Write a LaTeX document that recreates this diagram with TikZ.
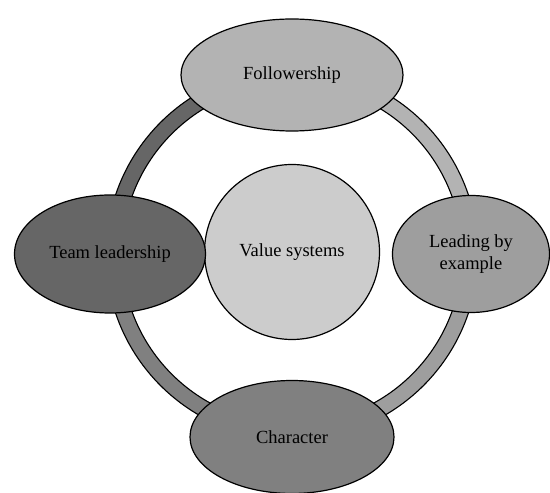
\documentclass[tikz,border=0pt]{standalone}
\usepackage{fontspec}
\setmainfont{Liberation Serif}
\usetikzlibrary{shapes.geometric,calc}
\definecolor{cFol}{HTML}{B3B3B3}
\definecolor{cVal}{HTML}{CCCCCC}
\definecolor{cLead}{HTML}{9E9E9E}
\definecolor{cTeam}{HTML}{666666}
\definecolor{cChar}{HTML}{808080}
\tikzset{
  bubble/.style={ellipse, draw=black, line width=1.2pt, inner sep=0pt,
    align=center, font=\fontsize{18.5}{22}\selectfont},
  seg/.style={draw=black, line width=1.1pt},
}
\begin{document}
\begin{tikzpicture}[x=1pt,y=1pt]
\useasboundingbox (0,0) rectangle (550,493);
\coordinate (ctr) at (292,239);
% ring segments
\foreach \a/\b/\c in {0/90/cFol, 90/180/cTeam, 180/270/cChar, 270/360/cLead}{
  \path[seg, fill=\c] ($(ctr)+(\a:186)$) arc[start angle=\a, end angle=\b, radius=186]
    -- ($(ctr)+(\b:170)$) arc[start angle=\b, end angle=\a, radius=170] -- cycle;
}
\node[bubble, fill=cVal, minimum width=175, minimum height=175] (val) at (292,241) {Value systems};
\node[bubble, fill=cFol, minimum width=222, minimum height=112] (fol) at (292,418) {Followership};
\node[bubble, fill=cLead, minimum width=157, minimum height=117] (lead) at (471,239) {Leading by\\example};
\node[bubble, fill=cTeam, minimum width=191, minimum height=118] (team) at (110,239) {Team leadership};
\node[bubble, fill=cChar, minimum width=204, minimum height=113] (char) at (292,56) {Character};
\end{tikzpicture}
\end{document}
